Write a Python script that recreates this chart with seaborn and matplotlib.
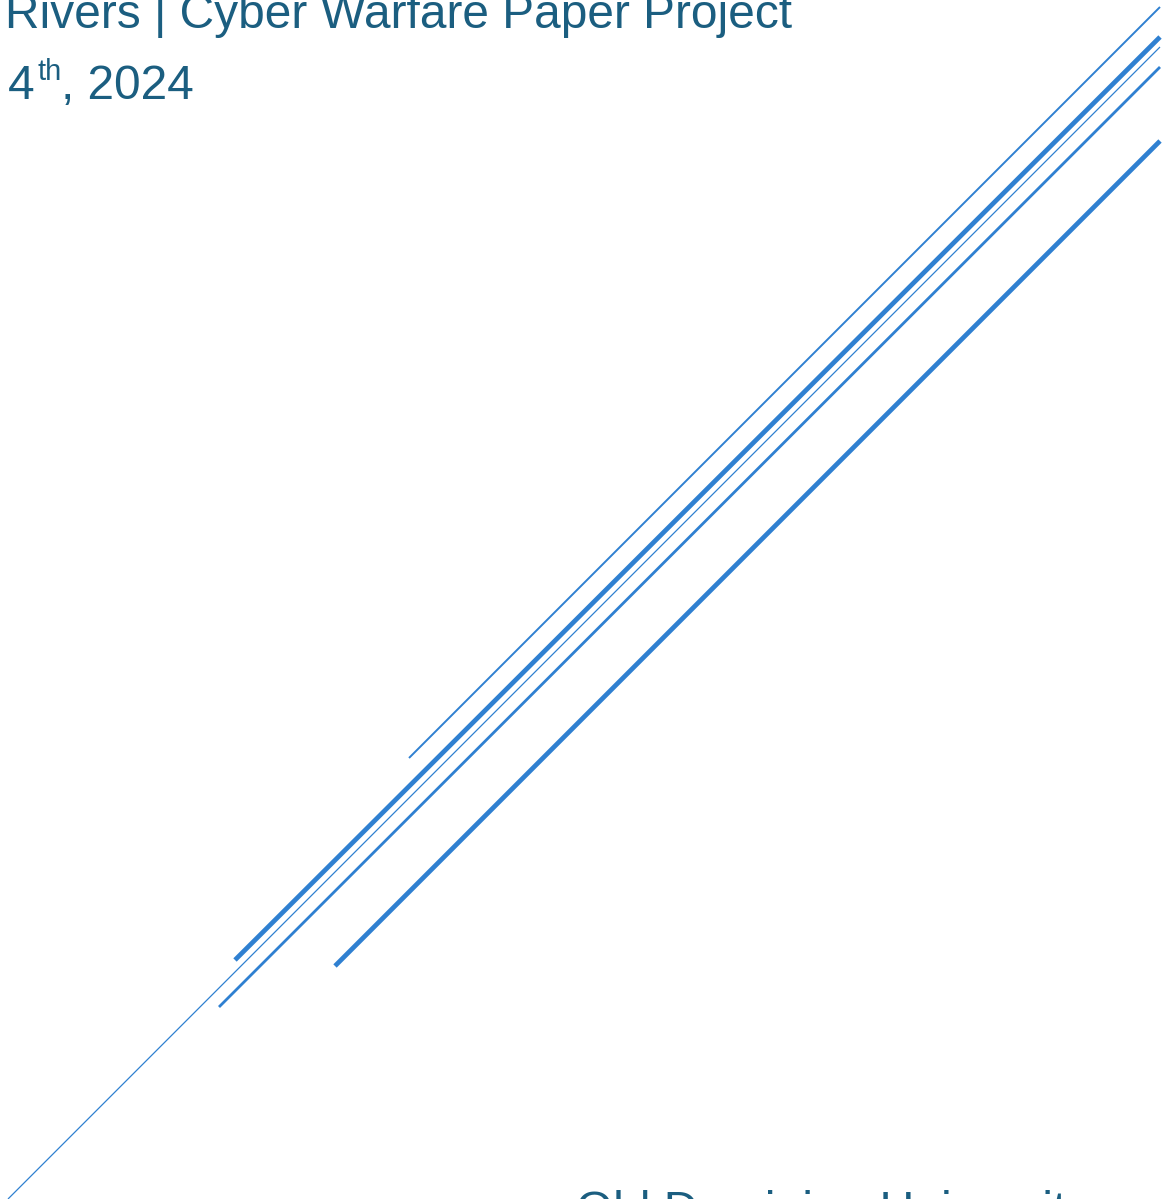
import matplotlib
matplotlib.use("Agg")
import matplotlib.pyplot as plt
import seaborn as sns
import pandas as pd

# diagonal stripes of the cover page (pixel coordinates, y down)
line_names = ["a", "b", "c", "d", "e"]
x_start = [409, 235, 8, 219, 335]
y_start = [758, 960, 1199, 1007, 966]
x_end = [1160, 1160, 1160, 1160, 1160]
y_end = [7, 37, 47, 67, 141]
widths = [1.4, 3.4, 0.9, 2.0, 3.4]

title_line = "Rivers | Cyber Warfare Paper Project"
date_day = "4"
date_sup = "th"
date_rest = ", 2024"
footer = "Old Dominion University"

line_color = "#2F80D1"
text_color = "#1B5E80"

sns.set_theme(style="white")
plt.rcParams["font.family"] = ["Liberation Sans", "DejaVu Sans"]

fig = plt.figure(figsize=(11.76, 11.99), dpi=100)
ax = fig.add_axes([0, 0, 1, 1])

for name, x0, y0, x1, y1, w in zip(line_names, x_start, y_start, x_end, y_end, widths):
    seg = pd.DataFrame({"x": [x0, x1], "y": [y0, y1]})
    sns.lineplot(data=seg, x="x", y="y", ax=ax, color=line_color,
                 linewidth=w, solid_capstyle="butt", sort=False)

ax.set_xlim(0, 1176)
ax.set_ylim(1199, 0)
ax.axis("off")

ax.text(5, 28, title_line, fontsize=34.5, color=text_color, va="baseline", ha="left")
ax.text(8, 99, date_day, fontsize=34.5, color=text_color, va="baseline", ha="left")
ax.text(37, 80, date_sup, fontsize=21, color=text_color, va="baseline", ha="left")
ax.text(61, 99, date_rest, fontsize=34.5, color=text_color, va="baseline", ha="left")
ax.text(576, 1225, footer, fontsize=34.5, color=text_color, va="baseline", ha="left",
        clip_on=False)

fig.savefig("out.png", dpi=100, facecolor="white")
